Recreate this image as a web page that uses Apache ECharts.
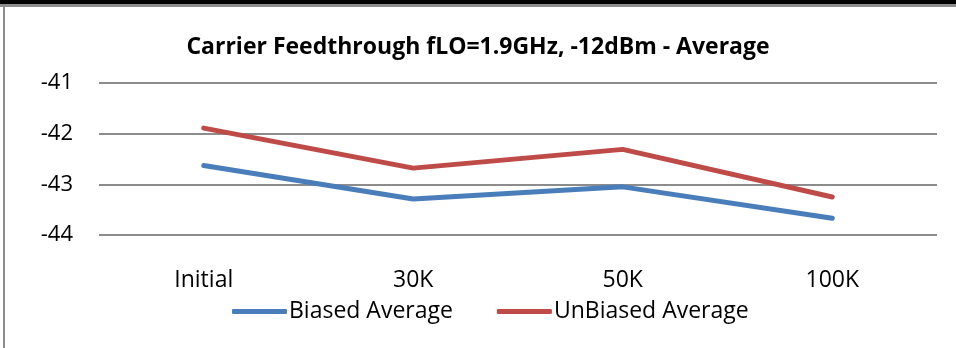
<!DOCTYPE html>
<html>
<head>
<meta charset="utf-8">
<script src="https://cdn.jsdelivr.net/npm/echarts@6/dist/echarts.min.js"></script>
<style>
  html, body { margin: 0; padding: 0; background: #fff; }
  #chart { width: 956px; height: 348px; }
</style>
</head>
<body>
<div id="chart"></div>
<script>
// Carrier feedthrough averages across stress intervals
const categories = ['Initial', '30K', '50K', '100K'];
const biasedAverage = [-42.63, -43.29, -43.05, -43.67];
const unbiasedAverage = [-41.89, -42.68, -42.31, -43.25];
const yTicks = [-44, -43, -42, -41];

const FONT = '"Open Sans", "Noto Sans", sans-serif';

const chart = echarts.init(document.getElementById('chart'), null, { renderer: 'canvas' });

chart.setOption({
  backgroundColor: '#ffffff',
  animation: false,
  title: {
    text: 'Carrier Feedthrough fLO=1.9GHz, -12dBm - Average',
    left: 'center',
    top: 31,
    textStyle: { fontFamily: FONT, fontWeight: 'bold', fontSize: 23, color: '#000' }
  },
  legend: {
    top: 295,
    left: 227,
    itemWidth: 55,
    itemHeight: 5,
    itemGap: 44,
    icon: 'roundRect',
    textStyle: { fontFamily: FONT, fontSize: 23, color: '#000', padding: [0, 0, 0, -3] },
    data: ['Biased Average', 'UnBiased Average']
  },
  grid: { left: 99, right: 19, top: 83, bottom: 113, containLabel: false },
  xAxis: {
    type: 'category',
    data: categories,
    boundaryGap: true,
    axisLine: { show: false },
    axisTick: { show: false },
    axisLabel: { fontFamily: FONT, fontSize: 23, color: '#000', margin: 34 }
  },
  yAxis: {
    type: 'value',
    min: yTicks[0],
    max: yTicks[yTicks.length - 1],
    interval: 1,
    axisLine: { show: false },
    axisTick: { show: false },
    axisLabel: { fontFamily: FONT, fontSize: 22, color: '#000', margin: 26 },
    splitLine: { lineStyle: { color: '#8c8c8c', width: 2 } }
  },
  series: [
    {
      name: 'Biased Average',
      type: 'line',
      data: biasedAverage,
      symbol: 'none',
      color: '#4a7ebb',
      lineStyle: { width: 5, color: '#4a7ebb', cap: 'round', join: 'round' }
    },
    {
      name: 'UnBiased Average',
      type: 'line',
      data: unbiasedAverage,
      symbol: 'none',
      color: '#be4b48',
      lineStyle: { width: 5, color: '#be4b48', cap: 'round', join: 'round' }
    }
  ],
  graphic: [
    { type: 'rect', shape: { x: 0, y: 0, width: 956, height: 4 }, style: { fill: '#000' } },
    { type: 'rect', shape: { x: 0, y: 4, width: 956, height: 3 }, style: { fill: '#8c8c8c' } },
    { type: 'rect', shape: { x: 3, y: 4, width: 2, height: 344 }, style: { fill: '#8c8c8c' } }
  ]
});
</script>
</body>
</html>
